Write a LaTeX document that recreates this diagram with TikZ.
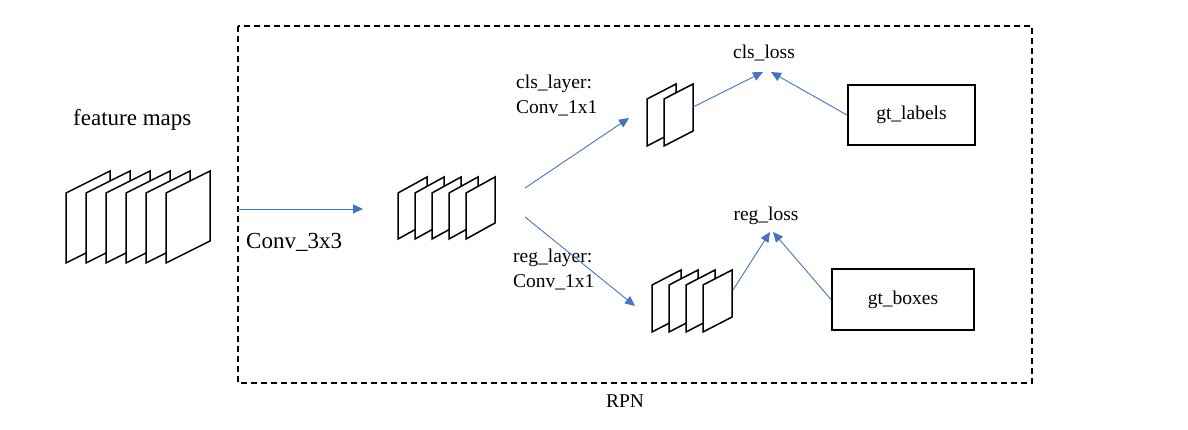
\documentclass[tikz,border=0pt]{standalone}
\usepackage{fontspec}
\setmainfont{Liberation Serif}
\usetikzlibrary{arrows.meta}
\definecolor{link}{HTML}{4472C4}
\tikzset{
  sheet/.style={draw=black, fill=white, line width=1.5pt, line join=miter},
  arr/.style={-{Triangle[length=10pt,width=9pt]}, line width=0.9pt, link},
  txt/.style={font=\fontsize{19.5}{24.5}\selectfont, inner sep=0pt, align=left},
  bigtxt/.style={font=\fontsize{23}{27}\selectfont, inner sep=0pt},
  gtbox/.style={draw, line width=2pt, font=\fontsize{19.5}{24}\selectfont},
  frame/.style={draw, line width=2pt, dash pattern=on 6pt off 4pt},
}
% #1 left x, #2 top-left y, #3 count, #4 width, #5 height, #6 skew, #7 spacing
\newcommand{\sheetstack}[7]{%
  \foreach \i in {1,...,#3}{
    \pgfmathsetmacro{\xx}{#1+(\i-1)*#7}
    \draw[sheet] (\xx,#2) -- ++(#4,-#6) -- ++(0,#5) -- ++(-#4,#6) -- cycle;
  }}

\begin{document}
\begin{tikzpicture}[x=1pt,y=-1pt]
  \useasboundingbox (0,0) rectangle (1188,429);
  \draw[frame] (238,26) rectangle (1032,383);
  \node[txt, anchor=base] (rpn) at (625,407) {RPN};

  % sheets
  \sheetstack{66}{193}{6}{44}{70}{22}{20}
  \sheetstack{398}{193}{5}{29}{46}{16}{17}
  \sheetstack{647}{99}{2}{29}{47}{15}{17}
  \sheetstack{652}{285}{4}{29}{47}{15}{17}

  \node[bigtxt, anchor=base west] (fm) at (73,125) {feature maps};
  \node[bigtxt, anchor=base west] (conv) at (246,248) {Conv\_3x3};
  \node[txt, anchor=base west] (clslayer) at (516,113) {cls\_layer:\\Conv\_1x1};
  \node[txt, anchor=base west] (reglayer) at (513,287) {reg\_layer:\\Conv\_1x1};
  \node[txt, anchor=base] (closs) at (764,58) {cls\_loss};
  \node[txt, anchor=base] (rloss) at (766,220) {reg\_loss};
  \node[gtbox, minimum width=127pt, minimum height=60pt] (labels) at (911.5,115) {gt\_labels};
  \node[gtbox, minimum width=142pt, minimum height=61pt] (boxes) at (903,299.5) {gt\_boxes};

  \coordinate (fmout) at (238,209);
  \coordinate (midin) at (363,209);
  \coordinate (midout1) at (525,188);
  \coordinate (midout2) at (525,217);
  \coordinate (clsin) at (629,118);
  \coordinate (regin) at (635,306);
  \coordinate (clsout) at (693,107);
  \coordinate (regout) at (733,290);
  \coordinate (ctip1) at (763,72);
  \coordinate (ctip2) at (771,72);
  \coordinate (rtip1) at (770,232);
  \coordinate (rtip2) at (773,232);

  \draw[arr] (fmout) -- (midin);
  \draw[arr] (midout1) -- (clsin);
  \draw[arr] (midout2) -- (regin);
  \draw[arr] (clsout) -- (ctip1);
  \draw[arr] (labels.west) -- (ctip2);
  \draw[arr] (regout) -- (rtip1);
  \draw[arr] (boxes.west) -- (rtip2);
\end{tikzpicture}
\end{document}
